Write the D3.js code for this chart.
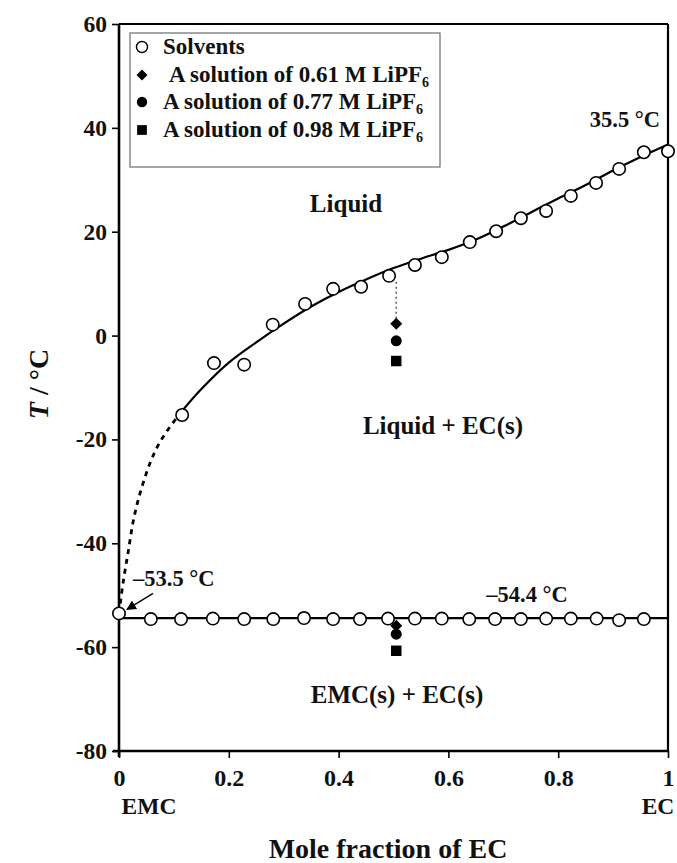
<!DOCTYPE html>
<html>
<head>
<meta charset="utf-8">
<script src="https://cdn.jsdelivr.net/npm/d3@7"></script>
<style>
  html, body { margin: 0; padding: 0; background: #fff; }
  svg text { font-family: "Liberation Serif", "Times New Roman", serif; font-weight: bold; fill: #111; }
</style>
</head>
<body>
<svg id="chart" width="677" height="863"></svg>
<script>
// EMC–EC binary phase diagram: measured solvent transitions and LiPF6 solutions

// Pure solvent mixtures, liquidus branch (mole fraction EC, °C)
const liquidusX = [0.115, 0.173, 0.228, 0.28, 0.339, 0.39, 0.441, 0.492, 0.539, 0.588, 0.639, 0.687, 0.732, 0.778, 0.823, 0.869, 0.911, 0.956, 1.0];
const liquidusT = [-15.3, -5.3, -5.6, 2.1, 6.1, 9.0, 9.4, 11.5, 13.6, 15.1, 18.0, 20.1, 22.6, 24.0, 26.9, 29.4, 32.1, 35.3, 35.5];

// Pure solvent mixtures, eutectic branch
const eutecticX = [0, 0.058, 0.113, 0.171, 0.228, 0.281, 0.337, 0.39, 0.439, 0.49, 0.539, 0.588, 0.638, 0.685, 0.732, 0.778, 0.823, 0.87, 0.911, 0.956];
const eutecticT = [-53.5, -54.6, -54.6, -54.5, -54.6, -54.6, -54.4, -54.6, -54.6, -54.5, -54.5, -54.5, -54.6, -54.6, -54.6, -54.5, -54.5, -54.5, -54.8, -54.6];
const eutecticLineT = -54.4;

// Fitted liquidus curve (solid part) and its extrapolation (dashed part)
const fitX = [0.115, 0.15, 0.2, 0.25, 0.3, 0.35, 0.4, 0.45, 0.5, 0.55, 0.6, 0.65, 0.7, 0.75, 0.8, 0.85, 0.9, 0.95, 1.0];
const fitT = [-14.5, -10.3, -5.2, -1.3, 2.3, 5.6, 8.4, 10.8, 13.0, 14.8, 16.5, 18.5, 21.0, 23.7, 26.4, 29.0, 31.8, 34.4, 36.8];
const extX = [0, 0.008, 0.017, 0.026, 0.038, 0.056, 0.071, 0.09, 0.115];
const extT = [-53.5, -47.2, -41.5, -35.7, -30.5, -24.7, -21.2, -18.0, -14.5];

// LiPF6 solutions at x(EC) ≈ 0.5: liquidus and solidus temperatures
const solutionNames = ["0.61", "0.77", "0.98"];
const solutionSymbols = ["diamond", "circle", "square"];
const solutionX = 0.505;
const solutionLiquidusT = [2.3, -1.0, -4.9];
const solutionSolidusT = [-55.9, -57.5, -60.7];
const dottedFromT = 11.5;

// Axes
const xTicks = [0, 0.2, 0.4, 0.6, 0.8, 1];
const xTickLabels = ["0", "0.2", "0.4", "0.6", "0.8", "1"];
const yTicks = [60, 40, 20, 0, -20, -40, -60, -80];
const yTickLabels = ["60", "40", "20", "0", "-20", "-40", "-60", "-80"];

const svg = d3.select("#chart");
const x = d3.scaleLinear().domain([0, 1]).range([119, 668]);
const y = d3.scaleLinear().domain([-80, 60]).range([751, 24]);

// Frame
const frame = svg.append("g");
frame.append("line").attr("x1", x(0)).attr("x2", x(1)).attr("y1", y(60)).attr("y2", y(60))
  .attr("stroke", "#000").attr("stroke-width", 2.2);
frame.append("line").attr("x1", x(1)).attr("x2", x(1)).attr("y1", y(60)).attr("y2", y(-80))
  .attr("stroke", "#000").attr("stroke-width", 2.2);

// Left axis
const yAxis = svg.append("g").attr("transform", `translate(${x(0)},0)`)
  .call(d3.axisLeft(y).tickValues(yTicks).tickSize(7).tickPadding(5).tickFormat((d, i) => yTickLabels[i]));
yAxis.select(".domain").attr("stroke-width", 2.6).attr("d", `M0,${y(60)}V${y(-80) + 6}`);
yAxis.selectAll(".tick line").attr("stroke-width", 1.6);
yAxis.selectAll(".tick text").attr("font-size", 23.5).attr("font-family", "Liberation Serif").attr("font-weight", "bold").attr("fill", "#111");

// Bottom axis
const xAxis = svg.append("g").attr("transform", `translate(0,${y(-80)})`)
  .call(d3.axisBottom(x).tickValues(xTicks).tickSize(7).tickPadding(11).tickFormat((d, i) => xTickLabels[i]));
xAxis.select(".domain").attr("stroke-width", 2.6).attr("d", `M${x(0) - 6},0H${x(1)}`);
xAxis.selectAll(".tick line").attr("stroke-width", 1.6);
xAxis.selectAll(".tick text").attr("font-size", 24).attr("font-family", "Liberation Serif").attr("font-weight", "bold").attr("fill", "#111");

// Axis titles
svg.append("text").attr("x", x(0) + 30).attr("y", 814).attr("text-anchor", "middle").attr("font-size", 23.5).text("EMC");
svg.append("text").attr("x", x(1) - 10).attr("y", 814).attr("text-anchor", "middle").attr("font-size", 23.5).text("EC");
svg.append("text").attr("x", 388).attr("y", 858).attr("text-anchor", "middle").attr("font-size", 28).text("Mole fraction of EC");
const yTitle = svg.append("text").attr("transform", "translate(48,384) rotate(-90)").attr("text-anchor", "middle").attr("font-size", 28);
yTitle.append("tspan").attr("font-style", "italic").text("T");
yTitle.append("tspan").text(" / °C");

// Liquidus fit and extrapolation
const line = d3.line().x(d => x(d[0])).y(d => y(d[1])).curve(d3.curveCatmullRom.alpha(0.5));
svg.append("path").datum(d3.zip(fitX, fitT)).attr("d", line)
  .attr("fill", "none").attr("stroke", "#000").attr("stroke-width", 2.2);
svg.append("path").datum(d3.zip(extX, extT)).attr("d", line)
  .attr("fill", "none").attr("stroke", "#000").attr("stroke-width", 2.8).attr("stroke-dasharray", "5,5");

// Eutectic line
svg.append("line").attr("x1", x(0)).attr("x2", x(1)).attr("y1", y(eutecticLineT)).attr("y2", y(eutecticLineT))
  .attr("stroke", "#000").attr("stroke-width", 2.2);

// Dotted guide from the solvent point down to the solution markers
svg.append("line").attr("x1", x(solutionX)).attr("x2", x(solutionX))
  .attr("y1", y(dottedFromT) + 6).attr("y2", y(solutionLiquidusT[0]) - 5)
  .attr("stroke", "#666").attr("stroke-width", 1.6).attr("stroke-dasharray", "2,3");

// Solvent points
const solvents = d3.zip(liquidusX, liquidusT).concat(d3.zip(eutecticX, eutecticT));
svg.append("g").selectAll("circle").data(solvents).join("circle")
  .attr("cx", d => x(d[0])).attr("cy", d => y(d[1])).attr("r", 6.2)
  .attr("fill", "#fff").attr("stroke", "#000").attr("stroke-width", 1.6);

// Solution markers (diamond drawn as a square turned 45°)
const symbolOf = {
  diamond: () => "M0,-6L6,0L0,6L-6,0Z",
  circle: d3.symbol().type(d3.symbolCircle).size(95),
  square: d3.symbol().type(d3.symbolSquare).size(110)
};
const solutionPoints = [];
solutionSymbols.forEach((s, i) => {
  solutionPoints.push({ s, t: solutionLiquidusT[i] });
  solutionPoints.push({ s, t: solutionSolidusT[i] });
});
svg.append("g").selectAll("path").data(solutionPoints).join("path")
  .attr("transform", d => `translate(${x(solutionX)},${y(d.t)})`)
  .attr("d", d => symbolOf[d.s]()).attr("fill", "#000");

// Region labels
svg.append("text").attr("x", 346).attr("y", 212).attr("text-anchor", "middle").attr("font-size", 25).text("Liquid");
svg.append("text").attr("x", 443).attr("y", 434).attr("text-anchor", "middle").attr("font-size", 25).text("Liquid + EC(s)");
svg.append("text").attr("x", 397).attr("y", 703).attr("text-anchor", "middle").attr("font-size", 25).text("EMC(s) + EC(s)");

// Temperature annotations
svg.append("text").attr("x", x(1) - 8).attr("y", 127).attr("text-anchor", "end").attr("font-size", 22.5).text("35.5 °C");
svg.append("text").attr("x", 527).attr("y", 602).attr("text-anchor", "middle").attr("font-size", 22.5).text("\u201354.4 °C");
svg.append("text").attr("x", 133).attr("y", 586).attr("font-size", 22.5).text("\u201353.5 °C");

// Arrow to the EMC melting point
svg.append("defs").append("marker").attr("id", "arrowhead")
  .attr("viewBox", "0 0 10 10").attr("refX", 9).attr("refY", 5)
  .attr("markerWidth", 7).attr("markerHeight", 7).attr("orient", "auto")
  .append("path").attr("d", "M0,0L10,5L0,10z").attr("fill", "#000");
svg.append("line").attr("x1", x(0) + 34).attr("y1", y(extT[0]) - 20)
  .attr("x2", x(0) + 8).attr("y2", y(extT[0]) - 4)
  .attr("stroke", "#000").attr("stroke-width", 1.4).attr("marker-end", "url(#arrowhead)");

// Legend
const legend = svg.append("g");
legend.append("rect").attr("x", 130).attr("y", 33).attr("width", 310).attr("height", 134)
  .attr("fill", "#fff").attr("stroke", "#777").attr("stroke-width", 1.3);
const rowY = [47, 75, 102, 130];
legend.append("circle").attr("cx", 142).attr("cy", rowY[0]).attr("r", 5.5)
  .attr("fill", "#fff").attr("stroke", "#000").attr("stroke-width", 1.4);
legend.append("text").attr("x", 163).attr("y", rowY[0] + 7).attr("font-size", 23).text("Solvents");
const legendSymbol = {
  diamond: () => "M0,-5.5L5.5,0L0,5.5L-5.5,0Z",
  circle: d3.symbol().type(d3.symbolCircle).size(85),
  square: d3.symbol().type(d3.symbolSquare).size(95)
};
solutionNames.forEach((n, i) => {
  const ry = rowY[i + 1];
  legend.append("path").attr("transform", `translate(142,${ry})`).attr("d", legendSymbol[solutionSymbols[i]]()).attr("fill", "#000");
  const t = legend.append("text").attr("x", i === 0 ? 169 : 163).attr("y", ry + 7).attr("font-size", 23);
  t.append("tspan").text(`A solution of ${n} M LiPF`);
  t.append("tspan").attr("font-size", 14).attr("dy", 5).text("6");
});
</script>
</body>
</html>
